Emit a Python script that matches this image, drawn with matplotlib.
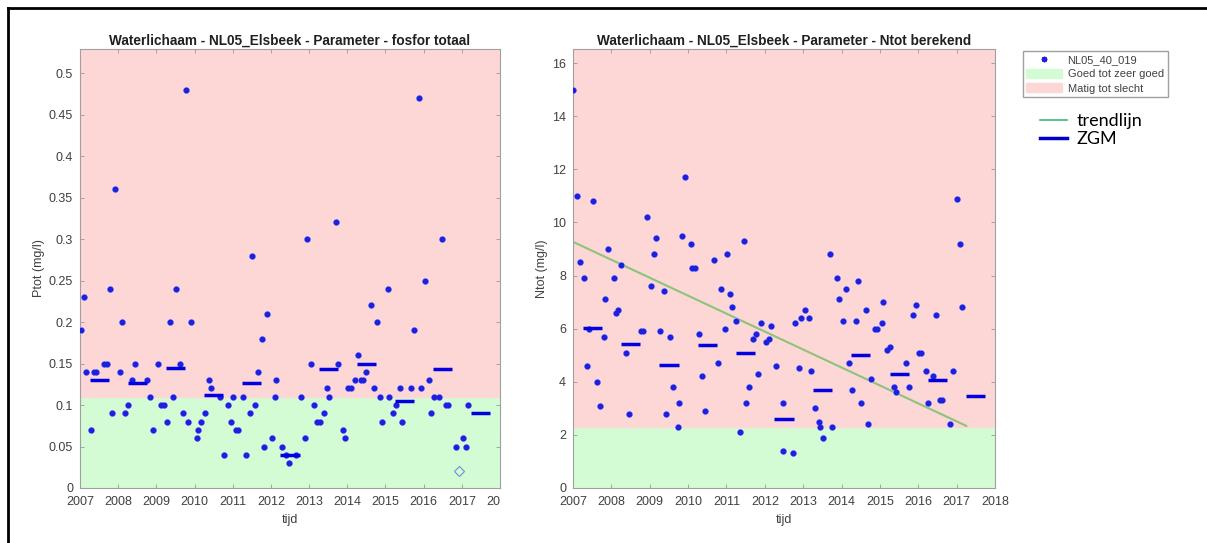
#!/usr/bin/env python

import numpy as np
import matplotlib
matplotlib.use('Agg')
import matplotlib.pyplot as plt
from matplotlib.lines import Line2D
from matplotlib.patches import Patch
from matplotlib.transforms import Bbox, TransformedBbox

plt.rcParams['font.family'] = ['Liberation Sans', 'DejaVu Sans']

# --- fosfor totaal (mg/l) ---
p_years = [2007.02, 2007.10, 2007.17, 2007.30, 2007.37, 2007.43, 2007.63, 2007.70, 2007.78, 2007.84,
           2007.91, 2008.06, 2008.10, 2008.17, 2008.25, 2008.35, 2008.45, 2008.76, 2008.84, 2008.91,
           2009.04, 2009.13, 2009.19, 2009.28, 2009.35, 2009.43, 2009.52, 2009.61, 2009.71, 2009.77,
           2009.84, 2009.91, 2010.06, 2010.10, 2010.17, 2010.28, 2010.37, 2010.42, 2010.67, 2010.77,
           2010.87, 2010.95, 2011.02, 2011.09, 2011.15, 2011.26, 2011.35, 2011.46, 2011.50, 2011.58,
           2011.67, 2011.76, 2011.82, 2011.90, 2012.04, 2012.12, 2012.14, 2012.30, 2012.40, 2012.48,
           2012.66, 2012.78, 2012.88, 2012.94, 2013.05, 2013.14, 2013.22, 2013.29, 2013.40, 2013.46,
           2013.52, 2013.71, 2013.75, 2013.88, 2013.94, 2014.03, 2014.09, 2014.21, 2014.27, 2014.36,
           2014.42, 2014.49, 2014.62, 2014.71, 2014.79, 2014.86, 2014.90, 2015.06, 2015.10, 2015.21,
           2015.28, 2015.38, 2015.43, 2015.67, 2015.76, 2015.87, 2015.93, 2016.04, 2016.13, 2016.20,
           2016.26, 2016.40, 2016.48, 2016.59, 2016.65, 2016.85, 2017.04, 2017.10, 2017.17]
p_vals = [0.19, 0.23, 0.14, 0.07, 0.14, 0.14, 0.15, 0.15, 0.24, 0.09,
          0.36, 0.14, 0.20, 0.09, 0.10, 0.13, 0.15, 0.13, 0.11, 0.07,
          0.15, 0.10, 0.10, 0.08, 0.20, 0.11, 0.24, 0.15, 0.09, 0.48,
          0.08, 0.20, 0.06, 0.07, 0.08, 0.09, 0.13, 0.12, 0.11, 0.04,
          0.10, 0.08, 0.11, 0.07, 0.07, 0.11, 0.04, 0.09, 0.28, 0.10,
          0.14, 0.18, 0.05, 0.21, 0.06, 0.11, 0.13, 0.05, 0.04, 0.03,
          0.04, 0.11, 0.06, 0.30, 0.15, 0.10, 0.08, 0.08, 0.09, 0.12,
          0.11, 0.32, 0.15, 0.07, 0.06, 0.12, 0.12, 0.13, 0.16, 0.13,
          0.13, 0.14, 0.22, 0.12, 0.20, 0.11, 0.08, 0.24, 0.11, 0.09,
          0.10, 0.12, 0.08, 0.12, 0.19, 0.47, 0.12, 0.25, 0.13, 0.09,
          0.11, 0.11, 0.30, 0.10, 0.10, 0.05, 0.06, 0.05, 0.10]
p_outlier_year = [2016.93]
p_outlier_val = [0.02]
p_norm = 0.11

# --- Ntot berekend (mg/l) ---
n_years = [2007.00, 2007.10, 2007.19, 2007.29, 2007.37, 2007.43, 2007.52, 2007.63, 2007.70, 2007.80,
           2007.84, 2007.91, 2008.07, 2008.11, 2008.17, 2008.26, 2008.37, 2008.45, 2008.77, 2008.83,
           2008.92, 2009.03, 2009.10, 2009.17, 2009.28, 2009.37, 2009.43, 2009.53, 2009.61, 2009.74,
           2009.77, 2009.85, 2009.93, 2010.07, 2010.11, 2010.17, 2010.29, 2010.37, 2010.43, 2010.67,
           2010.77, 2010.87, 2010.95, 2011.01, 2011.08, 2011.15, 2011.24, 2011.35, 2011.46, 2011.51,
           2011.59, 2011.68, 2011.77, 2011.83, 2011.91, 2012.04, 2012.10, 2012.17, 2012.29, 2012.47,
           2012.48, 2012.73, 2012.78, 2012.89, 2012.95, 2013.05, 2013.15, 2013.21, 2013.30, 2013.41,
           2013.45, 2013.51, 2013.71, 2013.76, 2013.89, 2013.94, 2014.03, 2014.12, 2014.19, 2014.27,
           2014.37, 2014.44, 2014.50, 2014.63, 2014.70, 2014.78, 2014.87, 2014.92, 2015.06, 2015.09,
           2015.19, 2015.26, 2015.37, 2015.43, 2015.67, 2015.76, 2015.87, 2015.93, 2016.02, 2016.08,
           2016.19, 2016.26, 2016.39, 2016.45, 2016.56, 2016.63, 2016.84, 2016.91, 2017.02, 2017.09,
           2017.15]
n_vals = [15.0, 11.0, 8.5, 7.9, 4.6, 6.0, 10.8, 4.0, 3.1, 5.7,
          7.1, 9.0, 7.9, 6.6, 6.7, 8.4, 5.1, 2.8, 5.9, 5.9,
          10.2, 7.6, 8.8, 9.4, 5.9, 7.4, 2.8, 5.7, 3.8, 2.3,
          3.2, 9.5, 11.7, 9.2, 8.3, 8.3, 5.8, 4.2, 2.9, 8.6,
          4.7, 7.5, 6.0, 8.8, 7.3, 6.8, 6.3, 2.1, 9.3, 3.2,
          3.8, 5.6, 5.8, 4.3, 6.2, 5.5, 5.6, 6.1, 4.6, 3.2,
          1.4, 1.3, 6.2, 4.5, 6.4, 6.7, 6.4, 4.4, 3.0, 2.5,
          2.3, 1.9, 8.8, 2.3, 7.9, 7.1, 6.3, 7.5, 4.7, 3.7,
          6.3, 7.8, 3.2, 6.7, 2.4, 4.1, 6.0, 6.0, 6.2, 7.0,
          5.2, 5.3, 3.8, 3.6, 4.7, 3.8, 6.5, 6.9, 5.1, 5.1,
          4.4, 3.2, 4.2, 6.5, 3.3, 3.3, 2.4, 4.4, 10.9, 9.2,
          6.8]
n_norm = 2.3
trend_years = [2007.0, 2017.25]
trend_vals = [9.27, 2.34]

# zomergemiddelde per jaar (april t/m september)
zgm_years = np.arange(2007, 2018)
p_zgm = [0.130, 0.127, 0.145, 0.112, 0.127, 0.040, 0.143, 0.150, 0.105, 0.143, 0.090]
n_zgm = [6.04, 5.44, 4.65, 5.38, 5.07, 2.61, 3.69, 4.99, 4.31, 4.06, 3.46]

green = '#d4fcd4'
pink = '#fdd6d6'
gray_txt = '#404040'
asterisk = (8, 2, 0)

W, H = 1207, 543
fig = plt.figure(figsize=(W / 100, H / 100), dpi=100)

ax1 = fig.add_axes([80 / W, 1 - 488 / H, 420 / W, 439 / H])
ax2 = fig.add_axes([573 / W, 1 - 488 / H, 422 / W, 439 / H])


def draw_panel(ax, years, vals, zgm, norm, ymax, yticks, title, ylabel):
    ax.axhspan(0, norm, color=green, zorder=0)
    ax.axhspan(norm, ymax, color=pink, zorder=0)
    ax.plot(years, vals, ls='none', marker=asterisk, ms=4.5, color='#9090ff', mew=1.6, zorder=3)
    ax.plot(years, vals, ls='none', marker=asterisk, ms=3.8, color='#2020d8', mew=0.9, zorder=3)
    for yr, z in zip(zgm_years, zgm):
        ax.plot([yr + 0.25, yr + 0.75], [z, z], color='#0000e0', lw=2.5, solid_capstyle='butt', zorder=4)
    ax.set_xlim(2007, 2018)
    ax.set_ylim(0, ymax)
    ax.set_yticks(yticks)
    ax.set_yticklabels(['{:g}'.format(t) for t in yticks])
    ax.tick_params(direction='in', length=3, width=0.6, colors='#999999', labelcolor=gray_txt,
                   labelsize=9, top=True, right=True)
    ax.tick_params(axis='x', pad=6)
    ax.tick_params(axis='y', pad=5)
    for s in ax.spines.values():
        s.set_color('#a0a0a0')
        s.set_linewidth(0.8)
    ax.set_title(title, fontsize=9.8, fontweight='bold', color='#202020', pad=3)
    ax.set_ylabel(ylabel, fontsize=9, color=gray_txt, labelpad=3)
    ax.set_xlabel('tijd', fontsize=9, color=gray_txt, labelpad=4)


draw_panel(ax1, p_years, p_vals, p_zgm, p_norm, 0.529, np.arange(0, 0.51, 0.05),
           'Waterlichaam - NL05_Elsbeek - Parameter - fosfor totaal', 'Ptot (mg/l)')
ax1.plot(p_outlier_year, p_outlier_val, ls='none', marker='D', ms=5, mfc='none',
         mec='#6f8fd8', mew=0.8, zorder=3)
ax1.set_xticks(zgm_years.tolist() + [2018])
# laatste label wordt half afgesneden zoals in het origineel
lab = ax1.get_xticklabels()[-1]
lab.set_clip_box(TransformedBbox(Bbox.from_extents(0, 0, 501 / W, 1), fig.transFigure))
lab.set_clip_on(True)

draw_panel(ax2, n_years, n_vals, n_zgm, n_norm, 16.53, np.arange(0, 17, 2),
           'Waterlichaam - NL05_Elsbeek - Parameter - Ntot berekend', 'Ntot (mg/l)')
ax2.plot(trend_years, trend_vals, color='#8cc47a', lw=1.5, zorder=2)
ax2.set_xticks(zgm_years.tolist() + [2018])

# legenda
h1 = [Line2D([], [], ls='none', marker=asterisk, ms=4, mew=1, color='#2020e0'),
      Patch(color=green), Patch(color=pink)]
leg1 = fig.legend(h1, ['NL05_40_019', 'Goed tot zeer goed', 'Matig tot slecht'],
                  loc='upper left', bbox_to_anchor=(1017 / W, 1 - 45 / H), fontsize=8,
                  fancybox=False, edgecolor='#a0a0a0', framealpha=1, handlelength=3.2,
                  handleheight=0.9, borderpad=0.35, labelspacing=0.35, handletextpad=0.5)
for t in leg1.get_texts():
    t.set_color(gray_txt)

h2 = [Line2D([], [], color='#3cb878', lw=1.2), Line2D([], [], color='#0000c8', lw=2.5)]
fig.legend(h2, ['trendlijn', 'ZGM'], loc='upper left', bbox_to_anchor=(1024 / W, 1 - 97 / H),
           frameon=False, prop={'family': 'Lato', 'size': 13}, handlelength=1.5,
           labelspacing=0.1, handletextpad=0.5)

# kader van de schermafdruk
fig.add_artist(Line2D([8 / W, 1], [1 - 8 / H, 1 - 8 / H], transform=fig.transFigure, color='black', lw=2))
fig.add_artist(Line2D([8 / W, 8 / W], [0, 1 - 8 / H], transform=fig.transFigure, color='black', lw=2))

fig.savefig('out.png', dpi=100)
